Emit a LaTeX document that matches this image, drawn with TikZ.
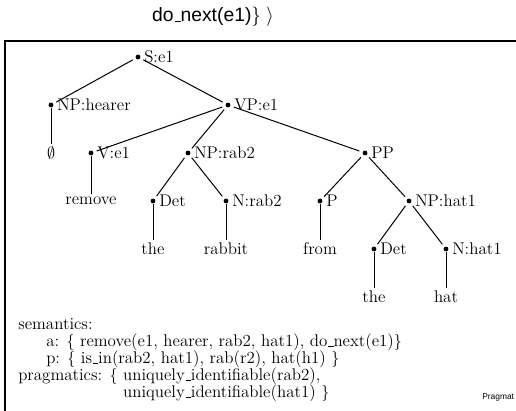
\documentclass[tikz,border=0pt]{standalone}
\usepackage{fontspec}
\newfontfamily\helv{Liberation Sans}
\newcommand\us{\leavevmode\kern.06em\vbox{\hrule width.3em}}
\begin{document}
\begin{tikzpicture}[x=0.75pt,y=-0.75pt,
  font=\fontsize{12.7}{15}\selectfont,
  dot/.style={circle,fill,inner sep=0pt,minimum size=3.6pt},
  lab/.style={anchor=west,inner sep=0pt},
  leaf/.style={inner sep=2pt},
  edge/.style={line width=0.75pt,shorten <=2.5pt,shorten >=2.5pt},
  stem/.style={line width=0.75pt},
  txt/.style={anchor=west,inner sep=0pt,text height=8.8pt,text depth=2.6pt}]
\useasboundingbox (0,0) rectangle (516,410);
% frame
\draw[line width=1.2pt] (5,430) -- (5,41) -- (530,41);
% top text
\node[inner sep=0pt,font=\helv\fontsize{14.5}{16}\selectfont] (top) at (213,17) {do\us next(e1)$\}$ $\rangle$};
% nodes
\node[dot] (S) at (138,57) {};
\node[lab] (S-l) at (144,57) {S:e1};
\node[dot] (NPh) at (51,105) {};
\node[lab] (NPh-l) at (57,105) {NP:hearer};
\node[dot] (VP) at (228,105) {};
\node[lab] (VP-l) at (234,105) {VP:e1};
\node[leaf] (empty) at (51,153) {$\emptyset$};
\node[dot] (V) at (91,153) {};
\node[lab] (V-l) at (97,153) {V:e1};
\node[dot] (NPr) at (188,153) {};
\node[lab] (NPr-l) at (194,153) {NP:rab2};
\node[dot] (PP) at (365,153) {};
\node[lab] (PP-l) at (371,153) {PP};
\node[leaf] (remove) at (91,201) {remove};
\node[dot] (Det1) at (153,201) {};
\node[lab] (Det1-l) at (159,201) {Det};
\node[dot] (Nr) at (226,201) {};
\node[lab] (Nr-l) at (232,201) {N:rab2};
\node[dot] (P) at (320,201) {};
\node[lab] (P-l) at (326,201) {P};
\node[dot] (NPhat) at (409,201) {};
\node[lab] (NPhat-l) at (415,201) {NP:hat1};
\node[leaf] (the1) at (153,249) {the};
\node[leaf] (rabbit) at (226,249) {rabbit};
\node[leaf] (from) at (320,249) {from};
\node[dot] (Det2) at (374,249) {};
\node[lab] (Det2-l) at (380,249) {Det};
\node[dot] (Nhat) at (446,249) {};
\node[lab] (Nhat-l) at (452,249) {N:hat1};
\node[leaf] (the2) at (374,297) {the};
\node[leaf] (hat) at (446,297) {hat};
% edges
\draw[edge] (S) -- (NPh);
\draw[edge] (S) -- (VP);
\draw[edge] (VP) -- (V);
\draw[edge] (VP) -- (NPr);
\draw[edge] (VP) -- (PP);
\draw[edge] (NPr) -- (Det1);
\draw[edge] (NPr) -- (Nr);
\draw[edge] (PP) -- (P);
\draw[edge] (PP) -- (NPhat);
\draw[edge] (NPhat) -- (Det2);
\draw[edge] (NPhat) -- (Nhat);
\draw[stem] (NPh) -- (empty);
\draw[stem] (V) -- (remove);
\draw[stem] (Det1) -- (the1);
\draw[stem] (Nr) -- (rabbit);
\draw[stem] (P) -- (from);
\draw[stem] (Det2) -- (the2);
\draw[stem] (Nhat) -- (hat);
% semantics
\node[txt] (sem) at (18,325) {semantics:};
\node[txt] (sema) at (46,342) {a: $\{$ remove(e1, hearer, rab2, hat1), do\us next(e1)$\}$};
\node[txt] (semp) at (46,359) {p: $\{$ is\us in(rab2, hat1), rab(r2), hat(h1) $\}$};
\node[txt] (prag) at (18,376) {pragmatics: $\{$ uniquely\us identifiable(rab2),};
\node[txt] (prag2) at (18,393) {\phantom{pragmatics: $\{$ }uniquely\us identifiable(hat1) $\}$};
\node[txt,font=\helv\fontsize{6.3}{7}\selectfont,text height=4.5pt,text depth=1.3pt] (pm) at (482,397) {Pragmat};
\end{tikzpicture}
\end{document}
